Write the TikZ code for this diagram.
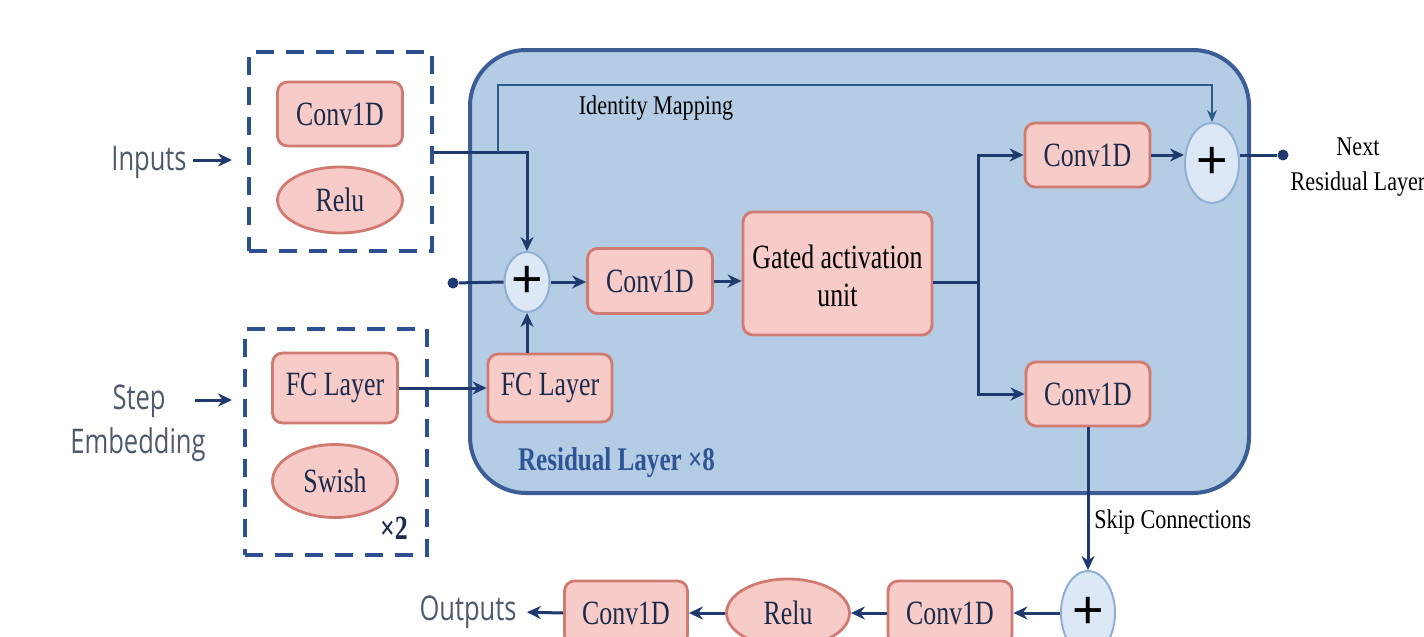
\documentclass[tikz,border=0pt]{standalone}
\usepackage{fontspec}
\setmainfont{Liberation Serif}
\newfontfamily\bx[FakeStretch=0.76]{Liberation Serif}
\newfontfamily\lbl[FakeStretch=0.82]{Liberation Serif}
\newfontfamily\sfx[FakeStretch=0.75]{Open Sans}
\newfontfamily\plusfont{Liberation Sans}
\usetikzlibrary{shapes.geometric,arrows.meta}
\definecolor{pinkfill}{HTML}{F6CBC8}
\definecolor{pinkdraw}{HTML}{D07A72}
\definecolor{navy}{HTML}{1E3A6E}
\definecolor{boxtext}{HTML}{1C2B4C}
\definecolor{resfill}{HTML}{B4CCE4}
\definecolor{resdraw}{HTML}{3B5E96}
\definecolor{dashc}{HTML}{2D5090}
\definecolor{plusfill}{HTML}{DCE8F6}
\definecolor{plusdraw}{HTML}{90AFD4}
\definecolor{sidetext}{HTML}{4F5B6B}
\definecolor{idline}{HTML}{2C5A8C}
\definecolor{restitle}{HTML}{2F5597}
\begin{document}
\begin{tikzpicture}[x=0.5pt,y=-0.5pt,
 pbox/.style={draw=pinkdraw,fill=pinkfill,line width=1.4pt,rounded corners=5pt,minimum width=62.5pt,minimum height=32pt,inner sep=0pt,font=\bx\fontsize{17}{19}\selectfont,text=boxtext},
 pell/.style={ellipse,draw=pinkdraw,fill=pinkfill,line width=1.4pt,minimum width=62.5pt,minimum height=34pt,inner sep=0pt,font=\bx\fontsize{17}{19}\selectfont,text=boxtext},
 plus/.style={ellipse,draw=plusdraw,fill=plusfill,line width=1pt,inner sep=0pt,font=\plusfont\fontsize{27}{27}\selectfont,text=black},
 dbox/.style={draw=dashc,line width=2pt,dash pattern=on 9pt off 6pt,inner sep=0pt},
 arr/.style={draw=navy,line width=1.5pt,-{Stealth[length=7pt,width=6.5pt]}},
 idarr/.style={draw=idline,line width=1pt,-{Stealth[length=6pt,width=5pt]}},
 ln/.style={draw=navy,line width=1.5pt},
 dot/.style={circle,fill=navy,inner sep=0pt,minimum size=5.5pt},
 sidelab/.style={font=\sfx\fontsize{17}{20}\selectfont,text=sidetext,inner sep=1pt},
 serlab/.style={font=\lbl\fontsize{13.5}{17.5}\selectfont,text=black,inner sep=1pt,align=center}
]
\useasboundingbox (0,0) rectangle (1424,637);
\fill[white] (0,0) rectangle (1424,637);
\clip (0,0) rectangle (1424,637);

% residual block
\node[draw=resdraw,fill=resfill,line width=2pt,rounded corners=28pt,minimum width=389.5pt,minimum height=221.5pt,inner sep=0pt] (res) at (859.5,271.5) {};
\node[font=\bx\bfseries\fontsize{16.5}{19}\selectfont,text=restitle,anchor=west] (restitle) at (511,463) {Residual Layer ×8};

% input block
\node[dbox,minimum width=91.5pt,minimum height=99.5pt] (inbox) at (340.5,151.5) {};
\node[pbox] (conv1) at (340,114) {Conv1D};
\node[pell,minimum height=33pt] (relu1) at (340,200) {Relu};
\node[sidelab] (ins) at (149,162) {Inputs};

% step embedding block
\node[dbox,minimum width=91pt,minimum height=113pt] (stepbox) at (336,442) {};
\node[pbox,minimum height=35pt] (fc1) at (335,388) {FC Layer};
\node[pell,minimum height=36.5pt] (swish) at (335,481) {Swish};
\node[font=\bx\bfseries\fontsize{17}{19}\selectfont,text=boxtext] (x2) at (394,528) {×2};
\node[sidelab] (stepl) at (139,401) {Step};
\node[sidelab] (embl) at (138,445) {Embedding};

% inside residual
\node[plus,minimum width=22.5pt,minimum height=30pt] (p1) at (527,282) {+};
\node[dot] (d1) at (453,283) {};
\node[pbox,minimum height=32.5pt] (conv2) at (650,281) {Conv1D};
\node[pbox,minimum width=94.5pt,minimum height=61.5pt,text=black,font=\bx\fontsize{17}{19}\selectfont] (gated) at (837.5,273.5) {\raisebox{-7.5pt}[0pt][0pt]{\begin{tabular}{@{}c@{}}Gated activation\\unit\end{tabular}}};
\node[pbox] (conv3) at (1087.5,155) {Conv1D};
\node[pbox,minimum width=62pt] (conv4) at (1088,394) {Conv1D};
\node[plus,minimum width=27pt,minimum height=40pt] (p2) at (1212,163) {+};
\node[dot] (d2) at (1283,155) {};
\node[pbox,minimum width=62pt,minimum height=34pt] (fc2) at (550,388) {FC Layer};
\node[serlab] (idl) at (656,108) {Identity Mapping};
\node[serlab] (nextl) at (1358,167) {Next\\Residual Layer};

% output row
\node[plus,minimum width=27pt,minimum height=42pt] (p3) at (1088,613) {+};
\node[pbox,minimum width=62pt] (conv5) at (950,613) {Conv1D};
\node[pell,minimum width=61.5pt,minimum height=34pt] (relu2) at (788,613) {Relu};
\node[pbox,minimum width=61.5pt] (conv6) at (626,613) {Conv1D};
\node[sidelab] (outs) at (468,612) {Outputs};
\node[serlab,anchor=west] (skipl) at (1092,522) {Skip Connections};

% coordinates
\coordinate (inA) at (193,160);
\coordinate (inB) at (232,160);
\coordinate (stA) at (195,400);
\coordinate (stB) at (232,400);
\coordinate (split) at (498,152);
\coordinate (idtop) at (498,85);
\coordinate (br) at (978,282);

% connectors
\draw[arr] (inA) -- (inB);
\draw[arr] (stA) -- (stB);
\draw[ln] (inbox.east |- split) -- (split);
\draw[arr] (split) -| (p1.north);
\draw[idarr] (split) -- (idtop) -| (p2.north);
\draw[ln] (d1) -- (p1.west);
\draw[arr] (fc2.north -| p1.south) -- (p1.south);
\draw[arr] (fc1.east) -- (fc1.east -| fc2.west);
\draw[arr] (p1.east) -- (p1.east -| conv2.west);
\draw[arr] (conv2.east) -- (conv2.east -| gated.west);
\draw[ln] (gated.east |- br) -- (br);
\draw[arr] (br) |- (conv3.west);
\draw[arr] (br) |- (conv4.west);
\draw[arr] (conv3.east) -- (conv3.east -| p2.west);
\draw[ln] (p2.east |- d2) -- (d2);
\draw[arr] (conv4.south) -- (p3.north);
\draw[arr] (p3.west) -- (conv5.east);
\draw[arr] (conv5.west) -- (relu2.east);
\draw[arr] (relu2.west) -- (conv6.east);
\draw[arr,shorten >=4pt] (conv6.west) -- (outs.east);
\end{tikzpicture}
\end{document}
